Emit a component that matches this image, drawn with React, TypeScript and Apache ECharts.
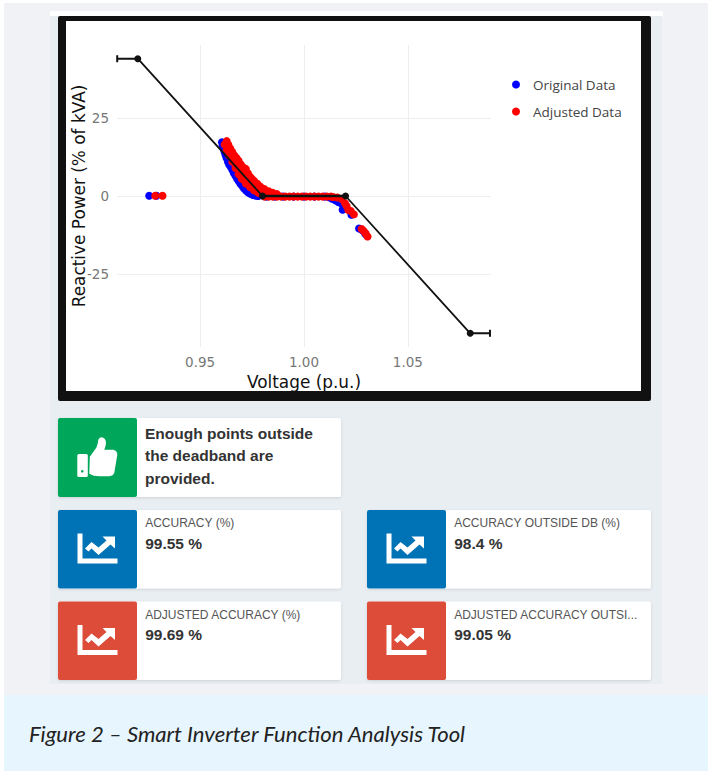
import React, { useEffect, useRef } from "react";
import * as echarts from "echarts";

const xTicks = [0.95, 1.0, 1.05];
const yTicks = [-25, 0, 25];

const originalData = [
  [0.9255, 0.1], [0.929, 0.1],
  [0.9605, 17.2], [0.9608, 16.2], [0.9612, 15.4], [0.9617, 14.3], [0.9622, 13.2], [0.9627, 12.2],
  [0.9634, 11], [0.964, 10.1], [0.9648, 9.2], [0.9655, 8.4], [0.9662, 7.4], [0.967, 6.5],
  [0.9678, 5.6], [0.9685, 4.8], [0.9694, 3.9], [0.9703, 3.1], [0.9712, 2.4], [0.9722, 1.7],
  [0.9732, 1.1], [0.9742, 0.7], [0.9754, 0.3], [0.9768, 0.1], [0.978, 0], [0.982, -0.2],
  [0.986, -0.2], [0.99, -0.2], [0.995, -0.2], [1.0, -0.2], [1.005, -0.2], [1.01, -0.2],
  [1.012, -0.4], [1.0135, -0.9], [1.015, -1.4], [1.0165, -1.9], [1.018, -2.4], [1.0186, -4.4],
  [1.0195, -3.2], [1.0228, -6], [1.0265, -10.4], [1.028, -11], [1.0295, -12.2],
];

const adjustedData = [
  [0.9284, 0.1], [0.9319, 0.1],
  [0.9628, 17.6], [0.9636, 16.4], [0.9645, 15.2], [0.9655, 14.1], [0.9665, 13], [0.9675, 12.2],
  [0.9685, 11.3], [0.9695, 10.2], [0.9705, 9.3], [0.972, 8.7], [0.973, 7.3], [0.974, 6.2],
  [0.975, 5.5], [0.976, 4.8], [0.9775, 3.9], [0.979, 3], [0.981, 2.2], [0.983, 1.5],
  [0.985, 1], [0.987, 0.6],
  [0.9618, 16.5], [0.9628, 14.8], [0.964, 13], [0.9655, 11], [0.967, 9], [0.9685, 7],
  [0.97, 5.5], [0.972, 4], [0.974, 2.8], [0.976, 1.8], [0.978, 1], [0.98, 0.4],
  [0.9634, 15.2], [0.9648, 13.4], [0.9662, 11.8], [0.9677, 10], [0.9692, 8.2], [0.9708, 6.6],
  [0.9725, 5.2], [0.9745, 3.8], [0.9765, 2.6], [0.9785, 1.6], [0.9805, 0.9], [0.983, 0.4],
  [0.981, -0.2], [0.983, -0.2], [0.985, -0.2], [0.987, -0.2], [0.989, -0.2], [0.991, -0.2],
  [0.993, -0.2], [0.995, -0.2], [0.997, -0.2], [0.999, -0.2], [1.001, -0.2], [1.003, -0.2],
  [1.005, -0.2], [1.007, -0.2], [1.009, -0.2], [1.011, -0.2], [1.013, -0.2], [1.014, -0.3],
  [1.016, -0.5], [1.018, -0.9], [1.0197, -2.3], [1.0205, -3.2], [1.0213, -4.5], [1.0225, -4.8],
  [1.024, -5.9], [1.0277, -10.6], [1.0287, -11.2], [1.0297, -12], [1.0306, -13],
];

const curveData = [[0.9, 44], [0.92, 44], [0.98, 0], [1.02, 0], [1.08, -44], [1.1, -44]];
const deadbandData = [[0.98, 0], [1.02, 0]];

const cards = [
  { head: "ACCURACY (%)", value: "99.55 %", color: "#0073b7", col: 0, row: 0 },
  { head: "ACCURACY OUTSIDE DB (%)", value: "98.4 %", color: "#0073b7", col: 1, row: 0 },
  { head: "ADJUSTED ACCURACY (%)", value: "99.69 %", color: "#dd4b39", col: 0, row: 1 },
  { head: "ADJUSTED ACCURACY OUTSI...", value: "99.05 %", color: "#dd4b39", col: 1, row: 1 },
];
const noticeLines = ["Enough points outside", "the deadband are", "provided."];
const captionText = "Figure 2 – Smart Inverter Function Analysis Tool";

echarts.graphic.registerShape(
  "trendIcon",
  echarts.graphic.extendPath(
    "M0 0H5V25H40V30H0Z M7.5 15L14 8.5L21 14L29 7L25 3H37.5V15L33 11L21 21.5L14 15L11 18Z",
    {}
  )
);
echarts.graphic.registerShape(
  "thumbIcon",
  echarts.graphic.extendPath(
    "M12.5 20L19 11Q20.5 8 21 3Q23 -0.5 26 1Q30 3 28 10L27 13H36Q40 14 40 18L37 36Q36 39 32 39.5H22Q16 39.5 12 37Z",
    {}
  )
);

const UI_FONT = "Liberation Sans, Arial, sans-serif";
const PLOT_FONT = "Open Sans, sans-serif";
const AXIS_FONT = "DejaVu Sans, sans-serif";

function rect(x: number, y: number, w: number, h: number, fill: string, extra: any = {}, r = 0) {
  return { type: "rect", z: -5, silent: true, shape: { x, y, width: w, height: h, r }, style: { fill, ...extra } };
}
function label(x: number, y: number, text: string, font: string, fill: string) {
  return { type: "text", z: -1, silent: true, x, y, style: { text, font, fill, textVerticalAlign: "middle" } };
}
const shadow = { shadowBlur: 3, shadowColor: "rgba(0,0,0,0.12)", shadowOffsetY: 1 };

function buildGraphic() {
  const els: any[] = [
    rect(0, 0, 708, 771, "#ffffff"),
    rect(4, 3, 704, 692, "#f0f2f5"),
    rect(50, 11, 613, 6, "#ffffff"),
    rect(50, 16, 612, 668, "#e9eef3"),
    rect(58, 16, 593, 385, "#111111", {}, 2),
    rect(66, 21, 575, 370, "#ffffff"),
    rect(4, 695, 704, 76, "#e6f5fe"),
    { type: "text", z: -1, silent: true, x: 29, y: 733, style: { text: captionText, font: "italic 22.1px Lato, sans-serif", fill: "#222222", textVerticalAlign: "middle" } },
    // notice card
    rect(58, 418, 283, 79, "#ffffff", shadow, 2),
    rect(58, 418, 79, 79, "#00a65a", {}, 2),
    rect(77.3, 454, 10.5, 23, "#ffffff", {}, 1.5),
    { type: "circle", z: -1, silent: true, shape: { cx: 82.3, cy: 471.3, r: 1.3 }, style: { fill: "#00a65a" } },
    { type: "thumbIcon", z: -1, silent: true, x: 77.3, y: 436.7, style: { fill: "#ffffff" } },
  ];
  noticeLines.forEach((t, i) => {
    els.push(label(145, 433.5 + i * 22.3, t, `bold 15.5px ${UI_FONT}`, "#333333"));
  });
  cards.forEach((c) => {
    const x = c.col === 0 ? 58 : 367;
    const y = c.row === 0 ? 510 : 601.5;
    els.push(rect(x, y, c.col === 0 ? 283 : 284, 78.5, "#ffffff", shadow, 2));
    els.push(rect(x, y, 79, 78.5, c.color, {}, 2));
    els.push({ type: "trendIcon", z: -1, silent: true, x: x + 19.5, y: y + 23.5, style: { fill: "#ffffff" } });
    els.push(label(x + 87.2, y + 13, c.head, `12px ${UI_FONT}`, "#555555"));
    els.push(label(x + 87.2, y + 33, c.value, `bold 15.5px ${UI_FONT}`, "#333333"));
  });
  return els;
}

export default function App() {
  const ref = useRef<HTMLDivElement>(null);
  useEffect(() => {
    document.body.style.margin = "0";
    const chart = echarts.init(ref.current!, undefined, { renderer: "svg" });
    const capped = (d: number[], i: number) =>
      i === 0 || i === curveData.length - 1
        ? { value: [i === 0 ? 0.9101 : 1.0895, d[1]], symbol: "rect", symbolSize: [2, 7] }
        : { value: d, symbol: "circle", symbolSize: 7 };
    chart.setOption({
      animation: false,
      backgroundColor: "transparent",
      graphic: { elements: buildGraphic() },
      grid: { left: 117, top: 45, width: 374, height: 302, containLabel: false },
      legend: {
        orient: "vertical",
        left: 507,
        top: 72.5,
        itemWidth: 24,
        itemHeight: 8,
        itemGap: 13,
        icon: "circle",
        data: ["Original Data", "Adjusted Data"],
        textStyle: { fontFamily: PLOT_FONT, fontSize: 13.5, color: "#444444" },
      },
      xAxis: {
        type: "value",
        min: 0.91,
        max: 1.09,
        name: "Voltage (p.u.)",
        nameLocation: "middle",
        nameGap: 26,
        nameMoveOverlap: false,
        nameTextStyle: { fontFamily: AXIS_FONT, fontSize: 16.9, color: "#111111" },
        axisLine: { show: false },
        axisTick: { show: false, customValues: xTicks },
        axisLabel: { customValues: xTicks, margin: 8, fontFamily: AXIS_FONT, fontSize: 13.5, color: "#777777", formatter: (v: number) => v.toFixed(2) },
        splitLine: { show: true, lineStyle: { color: "#eeeeee", width: 1 } },
      },
      yAxis: {
        type: "value",
        min: -48.4,
        max: 48.4,
        name: "Reactive Power (% of kVA)",
        nameLocation: "middle",
        nameGap: 30,
        nameMoveOverlap: false,
        nameRotate: 90,
        nameTextStyle: { fontFamily: AXIS_FONT, fontSize: 16.9, color: "#111111" },
        axisLine: { show: false },
        axisTick: { show: false, customValues: yTicks },
        axisLabel: { customValues: yTicks, margin: 8, fontFamily: AXIS_FONT, fontSize: 13.5, color: "#777777" },
        splitLine: { show: true, lineStyle: { color: "#eeeeee", width: 1 } },
      },
      series: [
        { name: "Original Data", type: "scatter", data: originalData, symbolSize: 8, itemStyle: { color: "#0000ff", opacity: 1 } },
        { name: "Adjusted Data", type: "scatter", data: adjustedData, symbolSize: 8, itemStyle: { color: "#ff0000", opacity: 1 } },
        {
          name: "Droop Curve",
          type: "line",
          z: 5,
          data: curveData.map(capped),
          showAllSymbol: true,
          itemStyle: { color: "#111111" },
          lineStyle: { color: "#111111", width: 1.8 },
          clip: true,
        },
        {
          name: "Deadband",
          type: "line",
          z: 5,
          data: deadbandData,
          symbol: "none",
          lineStyle: { color: "#111111", width: 2.6 },
        },
      ],
    });
    return () => chart.dispose();
  }, []);
  return <div ref={ref} style={{ position: "absolute", left: 0, top: 0, width: 708, height: 771 }} />;
}
